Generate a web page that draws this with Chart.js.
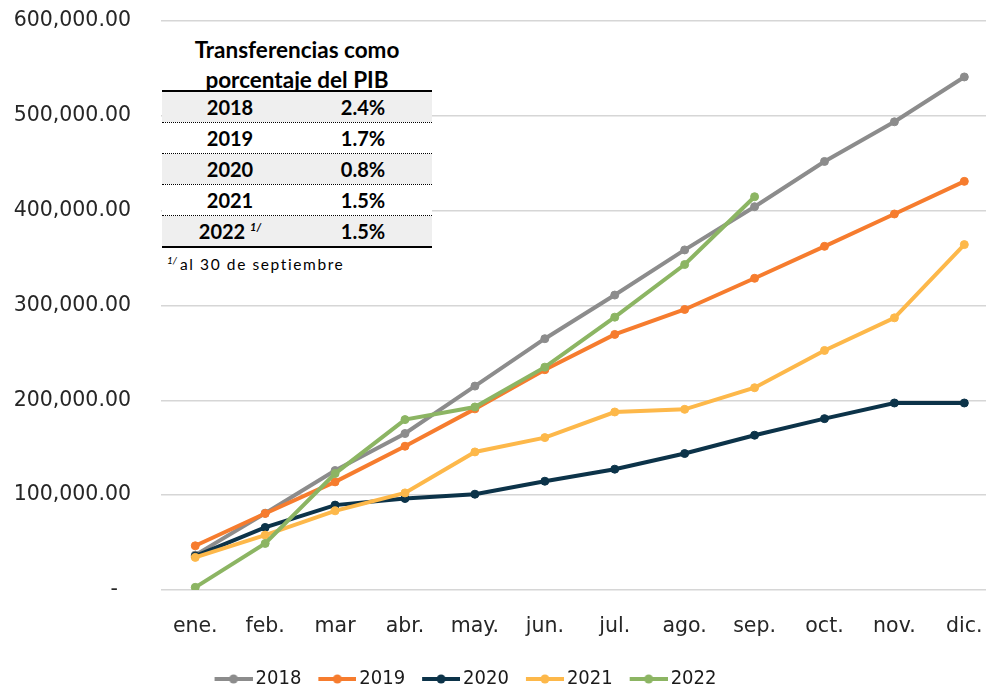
<!DOCTYPE html>
<html>
<head>
<meta charset="utf-8">
<script src="https://cdn.jsdelivr.net/npm/chart.js@4/dist/chart.umd.min.js"></script>
<style>
  html, body { margin: 0; padding: 0; background: #fff; }
  #wrap { position: relative; width: 991px; height: 686px; overflow: hidden; }
  #c { position: absolute; left: 0; top: 0; }
  #tbl { position: absolute; left: 162px; top: 24px; width: 270px; height: 256px; background: #fff;
         font-family: Lato, "Open Sans", sans-serif; color: #000; }
  #tbl .title { position: absolute; left: 0; top: 11px; width: 270px; text-align: center;
         font-weight: bold; font-size: 22.5px; line-height: 30px; }
  #tbl .row { position: absolute; left: 0; width: 270px; height: 30px; font-weight: bold; font-size: 20px; line-height: 30px; }
  #tbl .row.gray { background: #efefef; }
  #tbl .row .yr { position: absolute; left: 18px; width: 100px; text-align: center; }
  #tbl .row .pc { position: absolute; left: 151px; width: 100px; text-align: center; }
  #tbl .sup { font-size: 11px; position: relative; top: -8px; font-style: italic; }
  #tbl .hline { position: absolute; left: 0; width: 270px; height: 2px; background: #000; }
  #tbl .dline { position: absolute; left: 0; width: 270px; height: 0; border-top: 1px dotted #000; }
  #tbl .foot { position: absolute; left: 5px; top: 230px; font-size: 15.5px; letter-spacing: 1.6px; line-height: 20px; white-space: nowrap; }
  #tbl .foot .fsup { font-size: 10px; position: relative; top: -6px; letter-spacing: 0; margin-right: 3px; font-style: italic; }
</style>
</head>
<body>
<div id="wrap">
  <canvas id="c" width="991" height="686"></canvas>
  <div id="tbl"></div>
</div>
<script>
// ---- data ----
const categories = ['ene.', 'feb.', 'mar', 'abr.', 'may.', 'jun.', 'jul.', 'ago.', 'sep.', 'oct.', 'nov.', 'dic.'];
const seriesNames = ['2018', '2019', '2020', '2021', '2022'];
const s2018 = [36800, 81000, 126000, 165000, 215000, 265000, 311000, 358600, 404200, 451900, 493700, 541000];
const s2019 = [46600, 80700, 114000, 151600, 191000, 232300, 269500, 295800, 328700, 362400, 396500, 430900];
const s2020 = [35800, 66000, 89500, 96500, 101000, 114700, 127400, 143900, 163200, 180700, 197200, 197200];
const s2021 = [34400, 57900, 83500, 102400, 145600, 160700, 187700, 190500, 213300, 252600, 287000, 364200];
const s2022 = [2800, 49100, 122800, 179700, 193000, 235000, 287700, 343200, 414700];
const yTicks = [0, 100000, 200000, 300000, 400000, 500000, 600000];
const tableTitle = ['Transferencias como', 'porcentaje del PIB'];
const tableYears = ['2018', '2019', '2020', '2021', '2022'];
const tableNotes = ['', '', '', '', '1/'];
const tablePct = ['2.4%', '1.7%', '0.8%', '1.5%', '1.5%'];
const footnoteMark = '1/';
const footnoteText = 'al 30 de septiembre';

// ---- styles ----
const colors = ['#8c8c8c', '#f67c2e', '#0c3349', '#fdb84a', '#8cb563'];
const allSeries = [s2018, s2019, s2020, s2021, s2022];

// ---- table ----
(function buildTable() {
  const t = document.getElementById('tbl');
  let html = '<div class="title">' + tableTitle.join('<br>') + '</div>';
  html += '<div class="hline" style="top:66px"></div>';
  const rowTop0 = 68;
  for (let i = 0; i < tableYears.length; i++) {
    const top = rowTop0 + i * 31;
    const note = tableNotes[i] ? ' <span class="sup">' + tableNotes[i] + '</span>' : '';
    html += '<div class="row' + (i % 2 === 0 ? ' gray' : '') + '" style="top:' + top + 'px">' +
      '<span class="yr">' + tableYears[i] + note + '</span><span class="pc">' + tablePct[i] + '</span></div>';
    if (i < tableYears.length - 1) html += '<div class="dline" style="top:' + (top + 30) + 'px"></div>';
  }
  html += '<div class="hline" style="top:' + (rowTop0 + 4 * 31 + 30) + 'px"></div>';
  html += '<div class="foot"><span class="fsup">' + footnoteMark + '</span>' + footnoteText + '</div>';
  t.innerHTML = html;
})();

// ---- legend swatch (line + dot) ----
function swatch(color) {
  const cv = document.createElement('canvas');
  cv.width = 46; cv.height = 12;
  const g = cv.getContext('2d');
  g.strokeStyle = color; g.lineWidth = 4; g.lineCap = 'butt';
  g.beginPath(); g.moveTo(8, 6); g.lineTo(46, 6); g.stroke();
  g.fillStyle = color; g.beginPath(); g.arc(27, 6, 4.5, 0, Math.PI * 2); g.fill();
  return cv;
}
const swatches = colors.map(swatch);

const datasets = seriesNames.map((name, i) => ({
  label: name,
  data: allSeries[i].map((v, j) => ({ x: j, y: v })),
  borderColor: colors[i],
  backgroundColor: colors[i],
  pointBackgroundColor: colors[i],
  pointBorderColor: colors[i],
  borderWidth: 4,
  pointRadius: 4,
  pointBorderWidth: 1,
  tension: 0,
  fill: false,
  order: seriesNames.length - i
}));

const tickFont = { family: '"DejaVu Sans", Verdana, sans-serif', size: 20.5 };
const legendFontSize = 20;

const shiftPlugin = {
  id: 'shiftLegend',
  afterLayout(chart) {
    const lg = chart.legend;
    if (!lg) return;
    const dx = -30;
    lg.left += dx; lg.right += dx;
    const targetTop = 679 - legendFontSize / 2 - lg.options.labels.padding;
    const dy = targetTop - lg.top;
    lg.top += dy; lg.bottom += dy;
  }
};

new Chart(document.getElementById('c'), {
  type: 'line',
  data: { datasets },
  plugins: [shiftPlugin],
  options: {
    responsive: false,
    animation: false,
    devicePixelRatio: 1,
    layout: { padding: { top: 21, right: 1, left: 0, bottom: 0 } },
    plugins: {
      tooltip: { enabled: false },
      legend: {
        position: 'bottom',
        labels: {
          usePointStyle: true,
          pointStyleWidth: 32,
          padding: 16,
          color: '#1a1a1a',
          font: { family: '"DejaVu Sans Condensed", "Liberation Sans", sans-serif', size: legendFontSize },
          generateLabels(chart) {
            return chart.data.datasets.map((ds, i) => ({
              text: ds.label,
              pointStyle: swatches[i],
              fillStyle: colors[i],
              strokeStyle: colors[i],
              lineWidth: 0,
              hidden: false,
              datasetIndex: i,
              fontColor: '#1a1a1a'
            }));
          }
        }
      }
    },
    scales: {
      x: {
        type: 'linear',
        min: -0.49,
        max: 11.31,
        grid: { display: false, drawTicks: false },
        border: { display: false },
        afterBuildTicks(scale) { scale.ticks = categories.map((c, i) => ({ value: i })); },
        afterFit(scale) {
          const lh = scale.chart.legend ? scale.chart.legend.height : 0;
          scale.height = Math.max(10, 686 - 590 - lh);
          scale.paddingLeft = 0; scale.paddingRight = 0;
        },
        ticks: {
          autoSkip: false,
          maxRotation: 0,
          padding: 24,
          color: '#262626',
          font: tickFont,
          callback: (v) => categories[v] !== undefined ? categories[v] : ''
        }
      },
      y: {
        min: 0,
        max: 600000,
        afterBuildTicks(scale) { scale.ticks = yTicks.map(v => ({ value: v })); },
        afterFit(scale) { scale.width = 161; scale.paddingTop = 0; scale.paddingBottom = 0; },
        grid: { color: '#d6d6d6', lineWidth: 1.5, drawTicks: false },
        border: { display: false },
        ticks: {
          padding: 30,
          color: '#262626',
          font: tickFont,
          callback: (v) => v === 0 ? '-  ' : v.toLocaleString('en-US', { minimumFractionDigits: 2, maximumFractionDigits: 2 })
        }
      }
    }
  }
});
</script>
</body>
</html>
